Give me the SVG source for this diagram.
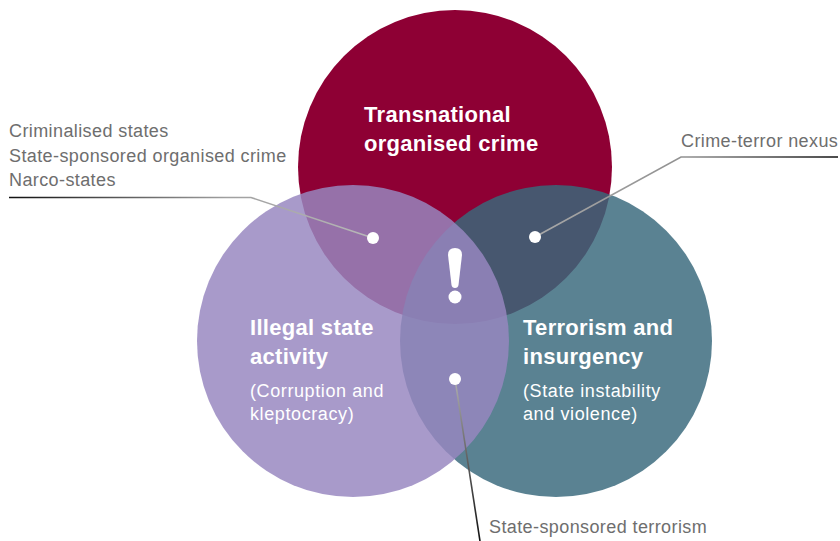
<svg xmlns="http://www.w3.org/2000/svg" width="840" height="541" viewBox="0 0 840 541">
  <defs>
    <style>
      .title { font-family: "Liberation Sans", Arial, sans-serif; font-weight: bold; font-size: 22px; letter-spacing: 0.3px; fill: #ffffff; }
      .sub { font-family: "Liberation Sans", Arial, sans-serif; font-size: 18px; letter-spacing: 0.6px; fill: #ffffff; }
      .label { font-family: "Liberation Sans", Arial, sans-serif; font-size: 18px; letter-spacing: 0.4px; fill: #6e6e6e; }
      .lead { fill: none; stroke-width: 1.6; }
      .dot { fill: #ffffff; }
    </style>
    <linearGradient id="gLeft" gradientUnits="userSpaceOnUse" x1="9" y1="0" x2="373" y2="0">
      <stop offset="0" stop-color="#111111"/>
      <stop offset="0.6" stop-color="#a0a0a0"/>
      <stop offset="1" stop-color="#b8b8b8"/>
    </linearGradient>
    <linearGradient id="gRight" gradientUnits="userSpaceOnUse" x1="838" y1="0" x2="535" y2="0">
      <stop offset="0" stop-color="#111111"/>
      <stop offset="0.5" stop-color="#909090"/>
      <stop offset="1" stop-color="#a8a8a8"/>
    </linearGradient>
    <linearGradient id="gBottom" gradientUnits="userSpaceOnUse" x1="0" y1="541" x2="0" y2="379">
      <stop offset="0" stop-color="#111111"/>
      <stop offset="1" stop-color="#b0b0b0"/>
    </linearGradient>
  </defs>

  <rect width="840" height="541" fill="#ffffff"/>

  <!-- circles -->
  <g id="crime">
    <circle cx="455" cy="167" r="157" fill="#8e0034"/>
  </g>
  <g id="terrorism">
    <circle cx="556" cy="341" r="156" fill="#39697c" fill-opacity="0.83"/>
  </g>
  <g id="state">
    <circle cx="353" cy="341" r="156" fill="#9787c0" fill-opacity="0.84"/>
  </g>

  <!-- exclamation mark -->
  <g id="alert">
    <path d="M448 255 Q448 248 455 248 Q462 248 462 255 L458.5 285 Q458 288 455 288 Q452 288 451.5 285 Z" fill="#ffffff"/>
    <circle cx="455" cy="297" r="6.5" fill="#ffffff"/>
  </g>

  <!-- node texts -->
  <g id="crime-text">
    <text class="title" x="364" y="122">Transnational</text>
    <text class="title" x="364" y="151">organised crime</text>
  </g>
  <g id="state-text">
    <text class="title" x="250" y="335">Illegal state</text>
    <text class="title" x="250" y="364">activity</text>
    <text class="sub" x="250" y="397">(Corruption and</text>
    <text class="sub" x="250" y="420">kleptocracy)</text>
  </g>
  <g id="terrorism-text">
    <text class="title" x="523" y="335">Terrorism and</text>
    <text class="title" x="523" y="364">insurgency</text>
    <text class="sub" x="523" y="397">(State instability</text>
    <text class="sub" x="523" y="420">and violence)</text>
  </g>

  <!-- leader lines -->
  <g id="connectors">
    <polyline class="lead" points="9,197.5 251,197.5 373,238" stroke="url(#gLeft)"/>
    <polyline class="lead" points="838,157 681,157 535,237" stroke="url(#gRight)"/>
    <line class="lead" x1="455" y1="379" x2="480" y2="541" stroke="url(#gBottom)"/>
    <circle class="dot" cx="373" cy="238" r="6"/>
    <circle class="dot" cx="535" cy="237" r="6"/>
    <circle class="dot" cx="455" cy="379" r="6"/>
  </g>

  <!-- callout labels -->
  <g id="left-label">
    <text class="label" x="9" y="137">Criminalised states</text>
    <text class="label" x="9" y="162">State-sponsored organised crime</text>
    <text class="label" x="9" y="186">Narco-states</text>
  </g>
  <g id="right-label">
    <text class="label" x="681" y="147">Crime-terror nexus</text>
  </g>
  <g id="bottom-label">
    <text class="label" x="489" y="533">State-sponsored terrorism</text>
  </g>
</svg>
